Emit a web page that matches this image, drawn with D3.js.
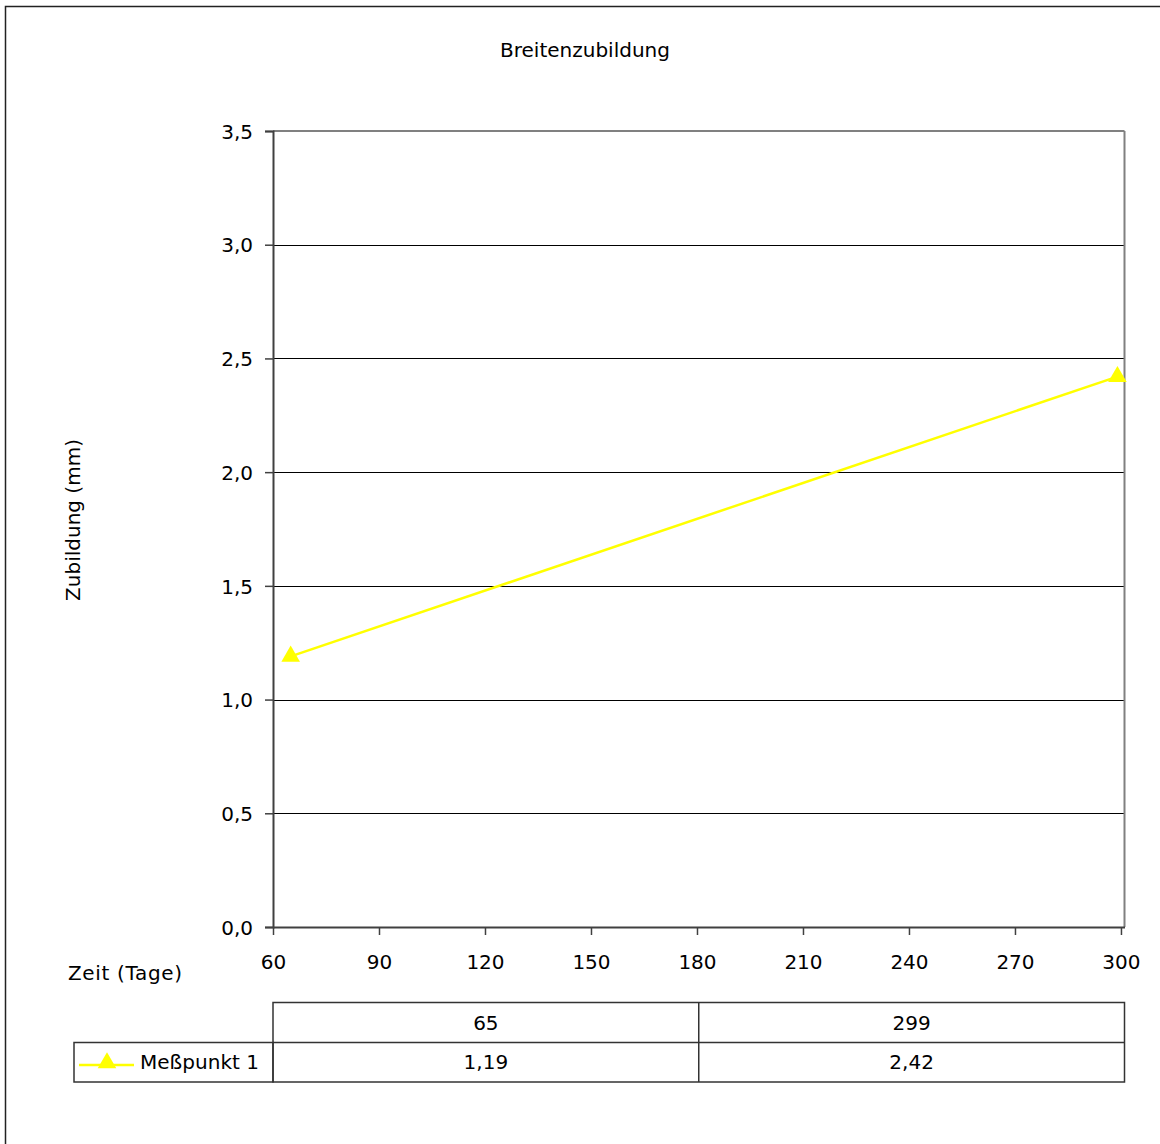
<!DOCTYPE html>
<html>
<head>
<meta charset="utf-8">
<script src="https://cdn.jsdelivr.net/npm/d3@7"></script>
<style>
  html, body { margin: 0; padding: 0; background: #fff; }
  svg text { font-family: "DejaVu Sans", Verdana, sans-serif; fill: #000; }
</style>
</head>
<body>
<svg id="chart" width="1160" height="1144"></svg>
<script>
const chartTitle = "Breitenzubildung";
const yAxisTitle = "Zubildung (mm)";
const xAxisTitle = "Zeit (Tage)";
const seriesName = "Meßpunkt 1";
const xValues = [65, 299];
const yValues = [1.19, 2.42];
const xTicks = [60, 90, 120, 150, 180, 210, 240, 270, 300];
const yTicks = [0, 0.5, 1, 1.5, 2, 2.5, 3, 3.5];

const fmtY = d => d3.format(".1f")(d).replace(".", ",");
const fmtV = d => d3.format(".2f")(d).replace(".", ",");

const svg = d3.select("#chart");
const L = 273, R = 1124.5, T = 131, B = 927;
const x = d3.scaleLinear().domain([60, 301]).range([L, R]);
const y = d3.scaleLinear().domain([0, 3.5]).range([B, T]);

// outer border
svg.append("rect").attr("x", 5.5).attr("y", 6.5).attr("width", 1200).attr("height", 1200)
  .attr("fill", "none").attr("stroke", "#222").attr("stroke-width", 1.5);

// title
svg.append("text").attr("x", 585).attr("y", 57).attr("text-anchor", "middle")
  .attr("font-size", 20).text(chartTitle);

// gridlines
svg.append("g").selectAll("line").data(yTicks.filter(d => d > 0 && d < 3.5)).join("line")
  .attr("x1", L).attr("x2", R)
  .attr("y1", d => Math.round(y(d)) + 0.5).attr("y2", d => Math.round(y(d)) + 0.5)
  .attr("stroke", "#000").attr("stroke-width", 1);

// plot frame (top/right gray)
svg.append("line").attr("x1", L).attr("x2", R).attr("y1", y(3.5)).attr("y2", y(3.5))
  .attr("stroke", "#808080").attr("stroke-width", 2);
svg.append("line").attr("x1", R).attr("x2", R).attr("y1", T).attr("y2", B)
  .attr("stroke", "#808080").attr("stroke-width", 2);

// y axis
const yAxis = d3.axisLeft(y).tickValues(yTicks).tickFormat(fmtY).tickSize(8).tickPadding(12);
const gy = svg.append("g").attr("transform", `translate(${L},0)`).call(yAxis);
gy.select(".domain").attr("stroke", "#404040").attr("stroke-width", 2);
gy.selectAll(".tick line").attr("stroke", "#404040").attr("stroke-width", 1.5);
gy.selectAll(".tick text").attr("font-size", 20).attr("font-family", "DejaVu Sans").attr("fill", "#000").attr("dy", "0.36em");

// x axis
const xAxis = d3.axisBottom(x).tickValues(xTicks).tickFormat(d3.format("d")).tickSize(8).tickSizeOuter(0).tickPadding(19);
const gx = svg.append("g").attr("transform", `translate(0,${B})`).call(xAxis);
gx.select(".domain").attr("stroke", "#404040").attr("stroke-width", 2);
gx.selectAll(".tick line").attr("stroke", "#404040").attr("stroke-width", 1.5);
gx.selectAll(".tick text").attr("font-size", 20).attr("font-family", "DejaVu Sans").attr("fill", "#000").attr("dy", "0.75em");

// axis titles
svg.append("text").attr("transform", "translate(80,520) rotate(-90)").attr("text-anchor", "middle")
  .attr("font-size", 20).text(yAxisTitle);
svg.append("text").attr("x", 68).attr("y", 980).attr("font-size", 20).attr("textLength", 114).text(xAxisTitle);

// series
const pts = xValues.map((d, i) => [d, yValues[i]]);
svg.append("path").datum(pts)
  .attr("d", d3.line().x(d => x(d[0])).y(d => y(d[1])))
  .attr("fill", "none").attr("stroke", "#FFFF00").attr("stroke-width", 2.5);
const tri = d3.symbol().type(d3.symbolTriangle).size(150);
svg.append("g").selectAll("path").data(pts).join("path")
  .attr("transform", d => `translate(${x(d[0])},${y(d[1])})`)
  .attr("d", tri).attr("fill", "#FFFF00");

// data table
const colX = [L, (L + R) / 2, R];
const rowY = [1002.5, 1042.5, 1082];
const tg = svg.append("g").attr("stroke", "#333").attr("stroke-width", 1.5).attr("fill", "none");
tg.append("rect").attr("x", L).attr("y", rowY[0]).attr("width", R - L).attr("height", rowY[2] - rowY[0]);
tg.append("line").attr("x1", L).attr("x2", R).attr("y1", rowY[1]).attr("y2", rowY[1]);
tg.append("line").attr("x1", colX[1]).attr("x2", colX[1]).attr("y1", rowY[0]).attr("y2", rowY[2]);
tg.append("rect").attr("x", 74).attr("y", rowY[1]).attr("width", L - 74).attr("height", rowY[2] - rowY[1]);

const cellCx = [(colX[0] + colX[1]) / 2, (colX[1] + colX[2]) / 2];
svg.append("g").selectAll("text").data(xValues).join("text")
  .attr("x", (d, i) => cellCx[i]).attr("y", (rowY[0] + rowY[1]) / 2).attr("dy", "0.36em")
  .attr("text-anchor", "middle").attr("font-size", 20).text(d => d);
svg.append("g").selectAll("text").data(yValues).join("text")
  .attr("x", (d, i) => cellCx[i]).attr("y", (rowY[1] + rowY[2]) / 2).attr("dy", "0.36em")
  .attr("text-anchor", "middle").attr("font-size", 20).text(fmtV);

// legend in table
const ly = 1065;
svg.append("line").attr("x1", 79).attr("x2", 134).attr("y1", ly).attr("y2", ly)
  .attr("stroke", "#FFFF00").attr("stroke-width", 2.5);
svg.append("path").attr("transform", `translate(107,${ly - 2})`).attr("d", tri).attr("fill", "#FFFF00");
svg.append("text").attr("x", 140).attr("y", (rowY[1] + rowY[2]) / 2).attr("dy", "0.36em")
  .attr("font-size", 20).attr("textLength", 119).text(seriesName);
</script>
</body>
</html>
